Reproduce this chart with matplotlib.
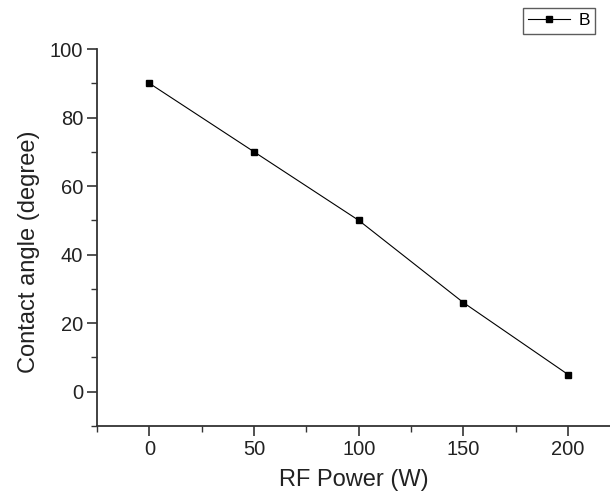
import matplotlib
matplotlib.use("Agg")
import matplotlib.pyplot as plt
from matplotlib.ticker import MultipleLocator

rf_power = [0, 50, 100, 150, 200]
contact_angle = [90, 70, 50, 26, 5]
series_name = "B"

plt.rcParams['font.family'] = ['Liberation Sans', 'DejaVu Sans']

fig = plt.figure(figsize=(6.10, 4.98), dpi=100)
ax = fig.add_axes([0.159, 0.1446, 0.841, 0.757])
ax.plot(rf_power, contact_angle, color='black', lw=0.8, marker='s', ms=4.5,
        label=series_name)
ax.set_xlim(-25, 220)
ax.set_ylim(-10, 100)
ax.xaxis.set_major_locator(MultipleLocator(50))
ax.xaxis.set_minor_locator(MultipleLocator(25))
ax.yaxis.set_major_locator(MultipleLocator(20))
ax.yaxis.set_minor_locator(MultipleLocator(10))
for s in ['top', 'right']:
    ax.spines[s].set_visible(False)
for s in ['left', 'bottom']:
    ax.spines[s].set_linewidth(1.3)
    ax.spines[s].set_color('#333333')
ax.tick_params(which='major', direction='out', length=7, width=1.2,
               labelsize=14.5, colors='#333333', pad=3)
ax.tick_params(which='minor', direction='out', length=4, width=1.0, colors='#333333')
ax.tick_params(axis='both', labelcolor='#222222')
ax.set_xlabel('RF Power (W)', fontsize=17, color='#222222', labelpad=7)
ax.set_ylabel('Contact angle (degree)', fontsize=17, color='#222222')
ax.yaxis.set_label_coords(-0.111, 0.461)
leg = ax.legend(loc='upper right', bbox_to_anchor=(595/610, 1 - 8/498),
                bbox_transform=fig.transFigure, frameon=True, fancybox=False,
                fontsize=12.5, handlelength=2.4, borderpad=0.3, handletextpad=0.5,
                borderaxespad=0)
leg.get_frame().set_edgecolor('#333333')
leg.get_frame().set_linewidth(1.0)
fig.savefig('out.png', dpi=100)
